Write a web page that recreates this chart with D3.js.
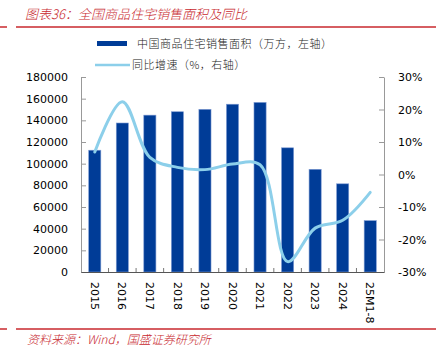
<!DOCTYPE html>
<html>
<head>
<meta charset="utf-8">
<script src="https://cdn.jsdelivr.net/npm/d3@7"></script>
<style>
  body { margin: 0; background: #fff; }
  svg { display: block; }
</style>
</head>
<body>
<div id="chart"></div>
<script>
// Data
const categories = ["2015", "2016", "2017", "2018", "2019", "2020", "2021", "2022", "2023", "2024", "25M1-8"];
const salesArea = [112412, 137540, 144789, 147929, 150144, 154878, 156532, 114631, 94796, 81393, 47400];
const yoyGrowth = [6.9, 22.4, 5.3, 2.2, 1.5, 3.2, 3.0, -26.8, -16.5, -14.1, -5.5];
const leftTicks = [0, 20000, 40000, 60000, 80000, 100000, 120000, 140000, 160000, 180000];
const rightTicks = [-30, -20, -10, 0, 10, 20, 30];

const width = 436, height = 351;
const plot = { left: 81, right: 384, top: 77, bottom: 272 };
const red = "#c8282e";
const barColor = "#003c97";
const lineColor = "#8ccfea";
const tickFont = "'DejaVu Sans', Verdana, sans-serif";
const cjkFont = "'Noto Sans CJK SC', sans-serif";

const svg = d3.select("#chart")
    .append("svg")
    .attr("width", width)
    .attr("height", height);

// Title and red rules
svg.append("text")
    .attr("x", 25)
    .attr("y", 19)
    .style("font-family", cjkFont)
    .style("font-size", "13px")
    .style("font-weight", 300)
    .style("font-style", "italic")
    .style("fill", red)
    .text("图表36：全国商品住宅销售面积及同比");

[27, 329].forEach(y => {
    svg.append("line").attr("x1", 0).attr("x2", 7).attr("y1", y).attr("y2", y)
        .style("stroke", red).style("stroke-width", 1.5);
    svg.append("line").attr("x1", 16).attr("x2", width).attr("y1", y).attr("y2", y)
        .style("stroke", red).style("stroke-width", 1.5);
});

svg.append("text")
    .attr("x", 27)
    .attr("y", 344)
    .style("font-family", cjkFont)
    .style("font-size", "12px")
    .style("font-weight", 300)
    .style("font-style", "italic")
    .style("fill", red)
    .text("资料来源：Wind，国盛证券研究所");

// Scales
const x = d3.scaleBand()
    .domain(categories)
    .range([plot.left, plot.right])
    .paddingInner(0.56)
    .paddingOuter(0.28);

const yLeft = d3.scaleLinear()
    .domain([0, 180000])
    .range([plot.bottom, plot.top]);

const yRight = d3.scaleLinear()
    .domain([-30, 30])
    .range([plot.bottom, plot.top]);

// Bars
svg.selectAll(".bar")
    .data(categories)
    .enter()
    .append("rect")
    .attr("class", "bar")
    .attr("x", d => x(d))
    .attr("y", (d, i) => yLeft(salesArea[i]))
    .attr("width", x.bandwidth())
    .attr("height", (d, i) => plot.bottom - yLeft(salesArea[i]))
    .style("fill", barColor)
    .style("stroke", "#7d9ad3")
    .style("stroke-width", 0.6);

// Growth line (smoothed like the office chart)
const line = d3.line()
    .x((d, i) => x(categories[i]) + x.bandwidth() / 2)
    .y(d => yRight(d))
    .curve(d3.curveCatmullRom.alpha(0.5));

svg.append("path")
    .datum(yoyGrowth)
    .attr("d", line)
    .style("fill", "none")
    .style("stroke", lineColor)
    .style("stroke-width", 3)
    .style("stroke-linecap", "round");

// Left axis
const leftAxis = svg.append("g")
    .attr("transform", `translate(${plot.left},0)`)
    .call(d3.axisLeft(yLeft).tickValues(leftTicks).tickFormat(d3.format("d"))
        .tickSizeInner(-5).tickSizeOuter(0).tickPadding(13));

// Right axis
const rightAxis = svg.append("g")
    .attr("transform", `translate(${plot.right},0)`)
    .call(d3.axisRight(yRight).tickValues(rightTicks).tickSizeInner(-5).tickSizeOuter(0).tickPadding(14)
        .tickFormat(d => d + "%"));

[leftAxis, rightAxis].forEach(g => {
    g.select(".domain").style("stroke", "#999");
    g.selectAll(".tick line").style("stroke", "#999");
    g.selectAll("text")
        .style("font-family", tickFont)
        .style("font-size", "11px")
        .style("fill", "#000");
});

// Bottom axis
const step = x.step();
const bottomAxis = svg.append("g")
    .attr("transform", `translate(0,${plot.bottom})`)
    .call(d3.axisBottom(x).tickSize(0).tickPadding(0));
bottomAxis.select(".domain").style("stroke", "#555");
bottomAxis.selectAll("text")
    .attr("transform", "rotate(90)")
    .attr("x", 10)
    .attr("y", 0)
    .attr("dy", "0.35em")
    .style("text-anchor", "start")
    .style("font-family", tickFont)
    .style("font-size", "11px")
    .style("fill", "#000");

// category separators on the baseline
svg.append("g")
    .selectAll("line")
    .data(categories.slice(1))
    .enter()
    .append("line")
    .attr("x1", d => x(d) - step * x.paddingInner() / 2)
    .attr("x2", d => x(d) - step * x.paddingInner() / 2)
    .attr("y1", plot.bottom)
    .attr("y2", plot.bottom - 4)
    .style("stroke", "#777");

// Legend
const legend = svg.append("g");
legend.append("rect")
    .attr("x", 97).attr("y", 41)
    .attr("width", 30).attr("height", 5)
    .style("fill", barColor);
legend.append("text")
    .attr("x", 137).attr("y", 44)
    .attr("dy", "0.35em")
    .style("font-family", cjkFont)
    .style("font-size", "11px")
    .style("font-weight", 300)
    .style("letter-spacing", "0.5px")
    .style("fill", "#222")
    .text("中国商品住宅销售面积（万方，左轴）");
legend.append("line")
    .attr("x1", 95).attr("x2", 130)
    .attr("y1", 65).attr("y2", 65)
    .style("stroke", lineColor)
    .style("stroke-width", 2.5);
legend.append("text")
    .attr("x", 132).attr("y", 65)
    .attr("dy", "0.35em")
    .style("font-family", cjkFont)
    .style("font-size", "11px")
    .style("font-weight", 300)
    .style("letter-spacing", "0.5px")
    .style("fill", "#222")
    .text("同比增速（%，右轴）");
</script>
</body>
</html>
